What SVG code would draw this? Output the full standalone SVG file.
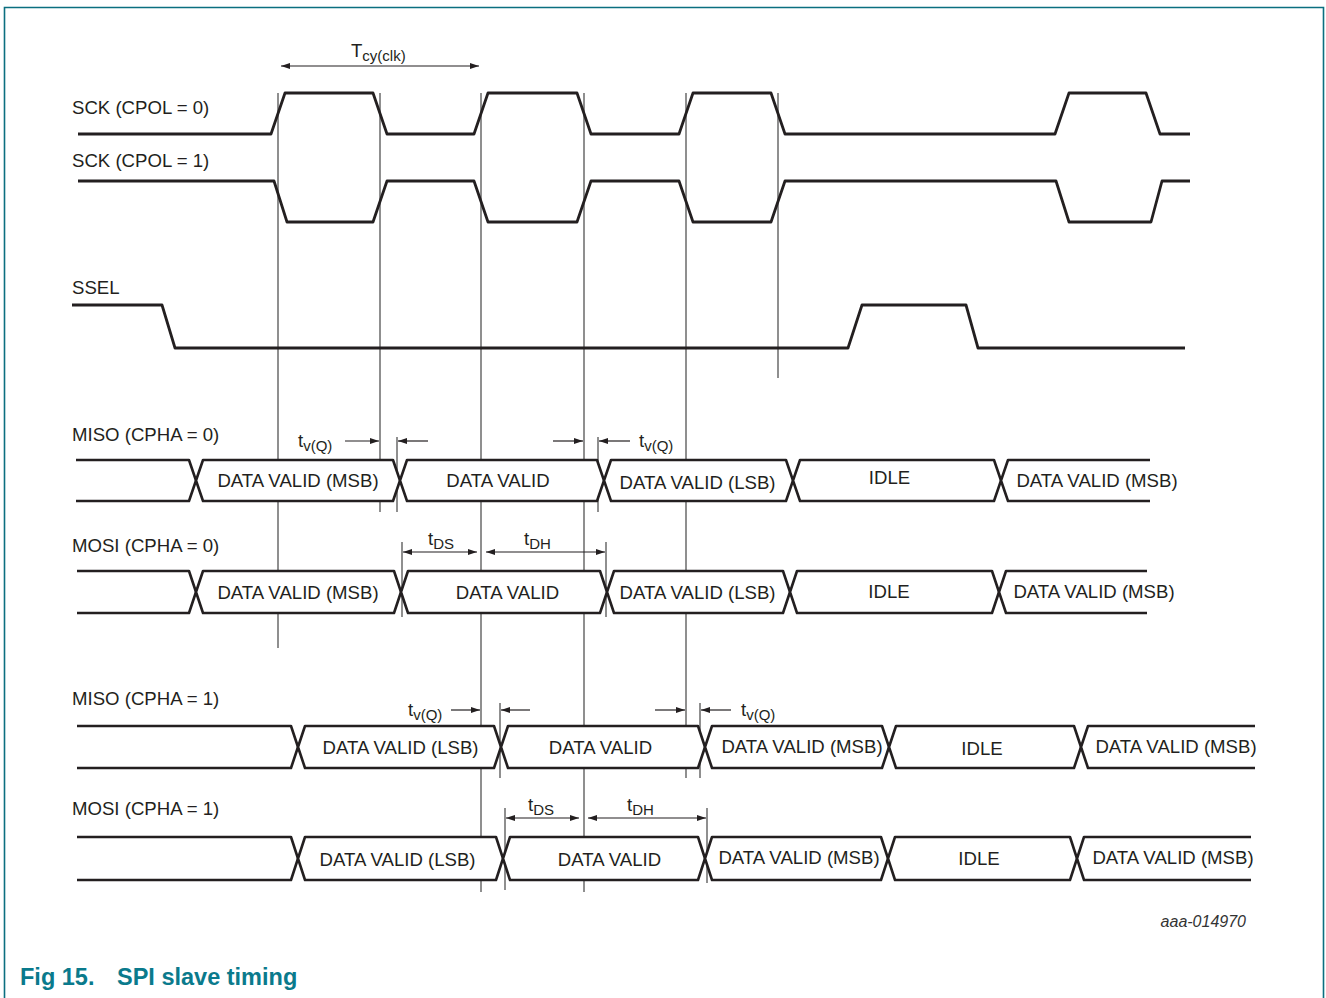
<svg xmlns="http://www.w3.org/2000/svg" width="1326" height="998" viewBox="0 0 1326 998">
<style>
text{font-family:"Liberation Sans",Arial,sans-serif;fill:#231f20;font-size:18.6px}
.sub{font-size:15px}
.mid{text-anchor:middle}
.sig{fill:none;stroke:#231f20;stroke-width:2.8;stroke-linejoin:round}
.bus{fill:#fff;stroke:#231f20;stroke-width:2.6;stroke-linejoin:round}
.guide{stroke:#333;stroke-width:1.1;fill:none}
.arr{stroke:#231f20;stroke-width:1.2;fill:none}
.cap{font-size:23.5px;font-weight:bold;fill:#0a7a8c}
.id{font-size:16px;font-style:italic;fill:#333}
</style>
<defs>
<marker id="ah" markerUnits="userSpaceOnUse" markerWidth="10" markerHeight="7" refX="9" refY="3" orient="auto-start-reverse"><path d="M0,0 L9,3 L0,6 z" fill="#231f20"/></marker>
</defs>
<path d="M4.5,998 L4.5,7.5 L1323.5,7.5 L1323.5,998" fill="none" stroke="#0b6f80" stroke-width="1.6"/>

<g id="guides">
<line class="guide" x1="278" y1="93" x2="278" y2="648"/>
<line class="guide" x1="380" y1="93" x2="380" y2="512"/>
<line class="guide" x1="481" y1="93" x2="481" y2="892"/>
<line class="guide" x1="584" y1="93" x2="584" y2="892"/>
<line class="guide" x1="686" y1="93" x2="686" y2="778"/>
<line class="guide" x1="778" y1="93" x2="778" y2="378"/>
<line class="guide" x1="397" y1="437" x2="397" y2="512"/>
<line class="guide" x1="598" y1="437" x2="598" y2="512"/>
<line class="guide" x1="402" y1="542" x2="402" y2="617"/>
<line class="guide" x1="606" y1="542" x2="606" y2="617"/>
<line class="guide" x1="500" y1="703" x2="500" y2="778"/>
<line class="guide" x1="700" y1="703" x2="700" y2="778"/>
<line class="guide" x1="505" y1="808" x2="505" y2="890"/>
<line class="guide" x1="707" y1="808" x2="707" y2="883"/>
</g>

<g id="sck0">
<text x="72" y="114">SCK (CPOL = 0)</text>
<path class="sig" d="M78,134 L271,134 L285,93 L373,93 L387,134 L474,134 L488,93 L577,93 L591,134 L679,134 L693,93 L771,93 L785,134 L1055,134 L1069,93 L1146,93 L1160,134 L1190,134"/>
</g>
<g id="sck1">
<text x="72" y="167">SCK (CPOL = 1)</text>
<path class="sig" d="M78,181 L274,181 L287,222 L373,222 L387,181 L474,181 L488,222 L577,222 L591,181 L679,181 L693,222 L771,222 L785,181 L1056,181 L1069,222 L1151,222 L1162,181 L1190,181"/>
</g>
<g id="ssel">
<text x="72" y="294">SSEL</text>
<path class="sig" d="M72,305 L162,305 L175,348 L848,348 L862,305 L966,305 L978,348 L1185,348"/>
</g>

<g id="miso0">
<text x="72" y="441">MISO (CPHA = 0)</text>
<path class="bus" d="M76,460 L189,460 L196,480.5 L189,501 L76,501"/>
<path class="bus" d="M196,480.5 L203,460 L393,460 L400,480.5 L393,501 L203,501 Z"/>
<path class="bus" d="M400,480.5 L407,460 L597,460 L604,480.5 L597,501 L407,501 Z"/>
<path class="bus" d="M604,480.5 L611,460 L786,460 L793,480.5 L786,501 L611,501 Z"/>
<path class="bus" d="M793,480.5 L800,460 L994,460 L1001,480.5 L994,501 L800,501 Z"/>
<path class="bus" d="M1150,460 L1008,460 L1001,480.5 L1008,501 L1150,501"/>
<text class="mid" x="298" y="487">DATA VALID (MSB)</text>
<text class="mid" x="498" y="487">DATA VALID</text>
<text class="mid" x="697.5" y="489">DATA VALID (LSB)</text>
<text class="mid" x="889.5" y="484">IDLE</text>
<text class="mid" x="1097" y="487">DATA VALID (MSB)</text>
</g>

<g id="mosi0">
<text x="72" y="552">MOSI (CPHA = 0)</text>
<path class="bus" d="M77,571 L189,571 L196,592 L189,613 L77,613"/>
<path class="bus" d="M196,592 L203,571 L394,571 L401,592 L394,613 L203,613 Z"/>
<path class="bus" d="M401,592 L408,571 L600,571 L607,592 L600,613 L408,613 Z"/>
<path class="bus" d="M607,592 L614,571 L783,571 L790,592 L783,613 L614,613 Z"/>
<path class="bus" d="M790,592 L797,571 L992,571 L999,592 L992,613 L797,613 Z"/>
<path class="bus" d="M1147,571 L1006,571 L999,592 L1006,613 L1147,613"/>
<text class="mid" x="298" y="599">DATA VALID (MSB)</text>
<text class="mid" x="507.5" y="599">DATA VALID</text>
<text class="mid" x="697.5" y="599">DATA VALID (LSB)</text>
<text class="mid" x="889" y="598">IDLE</text>
<text class="mid" x="1094" y="598">DATA VALID (MSB)</text>
</g>

<g id="miso1">
<text x="72" y="705">MISO (CPHA = 1)</text>
<path class="bus" d="M77,726 L291,726 L298,747 L291,768 L77,768"/>
<path class="bus" d="M298,747 L305,726 L494,726 L501,747 L494,768 L305,768 Z"/>
<path class="bus" d="M501,747 L508,726 L698,726 L705,747 L698,768 L508,768 Z"/>
<path class="bus" d="M705,747 L712,726 L882,726 L889,747 L882,768 L712,768 Z"/>
<path class="bus" d="M889,747 L896,726 L1074,726 L1081,747 L1074,768 L896,768 Z"/>
<path class="bus" d="M1255,726 L1088,726 L1081,747 L1088,768 L1255,768"/>
<text class="mid" x="400.5" y="754">DATA VALID (LSB)</text>
<text class="mid" x="600.5" y="754">DATA VALID</text>
<text class="mid" x="802" y="753">DATA VALID (MSB)</text>
<text class="mid" x="982" y="755">IDLE</text>
<text class="mid" x="1176" y="753">DATA VALID (MSB)</text>
</g>

<g id="mosi1">
<text x="72" y="815">MOSI (CPHA = 1)</text>
<path class="bus" d="M77,837 L291,837 L298,858.5 L291,880 L77,880"/>
<path class="bus" d="M298,858.5 L305,837 L496,837 L503,858.5 L496,880 L305,880 Z"/>
<path class="bus" d="M503,858.5 L510,837 L698,837 L705,858.5 L698,880 L510,880 Z"/>
<path class="bus" d="M705,858.5 L712,837 L881,837 L888,858.5 L881,880 L712,880 Z"/>
<path class="bus" d="M888,858.5 L895,837 L1070,837 L1077,858.5 L1070,880 L895,880 Z"/>
<path class="bus" d="M1251,837 L1084,837 L1077,858.5 L1084,880 L1251,880"/>
<text class="mid" x="397.5" y="866">DATA VALID (LSB)</text>
<text class="mid" x="609.5" y="866">DATA VALID</text>
<text class="mid" x="799" y="864">DATA VALID (MSB)</text>
<text class="mid" x="979" y="865">IDLE</text>
<text class="mid" x="1173" y="864">DATA VALID (MSB)</text>
</g>

<g id="connectors">
<path class="arr" d="M281,66 L479,66" marker-start="url(#ah)" marker-end="url(#ah)"/>
<path class="arr" d="M345,441 L379,441" marker-end="url(#ah)"/>
<path class="arr" d="M428,441 L398,441" marker-end="url(#ah)"/>
<path class="arr" d="M553,441 L583,441" marker-end="url(#ah)"/>
<path class="arr" d="M630,441 L599,441" marker-end="url(#ah)"/>
<path class="arr" d="M403,552 L477,552" marker-start="url(#ah)" marker-end="url(#ah)"/>
<path class="arr" d="M486,552 L605,552" marker-start="url(#ah)" marker-end="url(#ah)"/>
<path class="arr" d="M451,710 L480,710" marker-end="url(#ah)"/>
<path class="arr" d="M530,710 L501,710" marker-end="url(#ah)"/>
<path class="arr" d="M655,710 L685,710" marker-end="url(#ah)"/>
<path class="arr" d="M731,710 L701,710" marker-end="url(#ah)"/>
<path class="arr" d="M506,818 L579,818" marker-start="url(#ah)" marker-end="url(#ah)"/>
<path class="arr" d="M588,818 L706,818" marker-start="url(#ah)" marker-end="url(#ah)"/>
</g>

<g id="labels">
<text x="351" y="57">T<tspan class="sub" dy="4">cy(clk)</tspan></text>
<text x="298" y="447">t<tspan class="sub" dy="4">v(Q)</tspan></text>
<text x="639" y="447">t<tspan class="sub" dy="4">v(Q)</tspan></text>
<text x="428" y="545">t<tspan class="sub" dy="4">DS</tspan></text>
<text x="524" y="545">t<tspan class="sub" dy="4">DH</tspan></text>
<text x="408" y="716">t<tspan class="sub" dy="4">v(Q)</tspan></text>
<text x="741" y="716">t<tspan class="sub" dy="4">v(Q)</tspan></text>
<text x="528" y="811">t<tspan class="sub" dy="4">DS</tspan></text>
<text x="627" y="811">t<tspan class="sub" dy="4">DH</tspan></text>
<text class="id" x="1246" y="927" text-anchor="end">aaa-014970</text>
<text class="cap" x="20" y="985">Fig 15.</text>
<text class="cap" x="117" y="985">SPI slave timing</text>
</g>
</svg>
